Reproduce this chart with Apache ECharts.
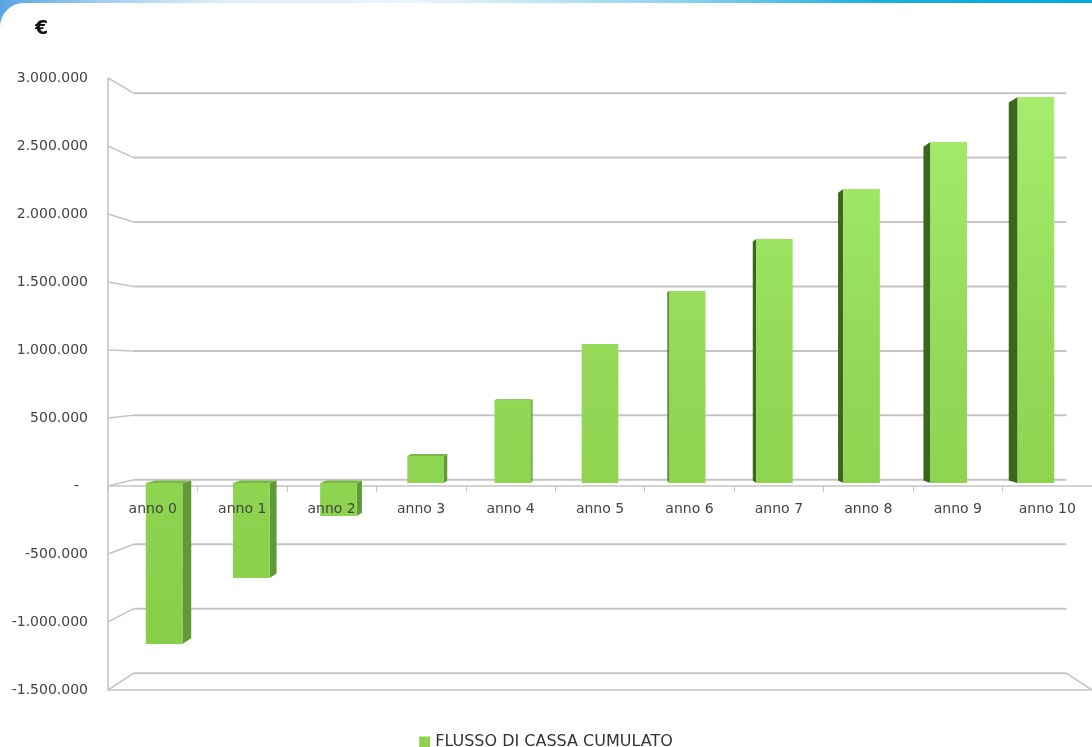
<!DOCTYPE html>
<html>
<head>
<meta charset="utf-8">
<script src="https://cdn.jsdelivr.net/npm/echarts@6/dist/echarts.min.js"></script>
<style>
html,body{margin:0;padding:0;width:1092px;height:747px;overflow:hidden;background:#fff;}
#bg{position:absolute;left:0;top:0;width:1092px;height:747px;
  background:linear-gradient(90deg,#58a6e2 0%,#9fcdf0 9%,#dcedf9 20%,#eaf5fb 38%,#8fd3ee 62%,#1cb0e0 80%,#02a9dc 100%);}
#panel{position:absolute;left:0;top:3px;width:1092px;height:744px;background:#fff;border-top-left-radius:24px;}
#chart{position:absolute;left:0;top:0;width:1092px;height:747px;}
</style>
</head>
<body>
<div id="bg"></div>
<div id="panel"></div>
<div id="chart"></div>
<script>
// ---- data ----
const categories = ['anno 0','anno 1','anno 2','anno 3','anno 4','anno 5','anno 6','anno 7','anno 8','anno 9','anno 10'];
const cumulativeCashFlow = [-1215000, -717000, -249000, 204000, 626000, 1049000, 1449000, 1841000, 2218000, 2573000, 2913000];
const yTicks = [-1500000, -1000000, -500000, 0, 500000, 1000000, 1500000, 2000000, 2500000, 3000000];
const seriesName = 'FLUSSO DI CASSA CUMULATO';

// ---- perspective settings (style) ----
const Y_MIN = -1500000, Y_MAX = 3000000, Y_STEP = 500000;
const VANISH_VALUE = 870000;   // eye level on the value axis
const WALL_DEPTH = 0.9477;     // scale of the back wall
const BAR_FRONT = 0.9746;      // scale of bar front faces
const BAR_BACK = 0.954;        // scale of bar back faces
const BAR_RATIO = 0.42;
const FONT = 'DejaVu Sans';

function project(p, s, vp) {
  return [vp[0] + (p[0] - vp[0]) * s, vp[1] + (p[1] - vp[1]) * s];
}
function fmt(v) {
  if (v === 0) return '-\u00a0\u00a0';
  const s = Math.abs(v).toString().replace(/\B(?=(\d{3})+(?!\d))/g, '.');
  return (v < 0 ? '-' : '') + s;
}
function vanish(params, api) {
  const cs = params.coordSys;
  return [cs.x + cs.width / 2, api.coord([0, VANISH_VALUE])[1]];
}

const chart = echarts.init(document.getElementById('chart'), null, {renderer: 'canvas'});

const option = {
  animation: false,
  backgroundColor: 'transparent',
  textStyle: {fontFamily: FONT},
  title: {
    text: '€', left: 30, top: 15,
    textStyle: {fontFamily: FONT, fontSize: 19, fontWeight: 'bold', color: '#111'}
  },
  legend: {
    data: [seriesName],
    left: 'center', top: 729,
    icon: 'rect', itemWidth: 11, itemHeight: 11, itemGap: 10,
    textStyle: {fontFamily: FONT, fontSize: 16, color: '#333'}
  },
  grid: {left: 108, top: 78, width: 990, height: 612, containLabel: false},
  xAxis: {
    type: 'category',
    data: categories,
    position: 'bottom',
    offset: 0,
    z: 10,
    axisLine: {show: true, onZero: false, lineStyle: {color: 'rgba(0,0,0,0)'}},
    axisTick: {show: true, length: 6, lineStyle: {color: '#c4c4c4', width: 1}},
    axisLabel: {margin: 16, fontSize: 14, color: '#444', fontFamily: FONT},
    splitLine: {show: false}
  },
  yAxis: {
    type: 'value',
    min: Y_MIN, max: Y_MAX, interval: Y_STEP,
    axisLine: {show: true, lineStyle: {color: '#c2c2c2', width: 1.5}},
    axisTick: {show: false},
    splitLine: {show: false},
    axisLabel: {margin: 20, fontSize: 14, color: '#444', fontFamily: FONT, formatter: fmt}
  },
  series: [
    {
      type: 'custom',
      name: 'wall',
      z: 1,
      silent: true,
      data: yTicks.map(v => [0, v]),
      encode: {x: 0, y: 1},
      renderItem: function (params, api) {
        const cs = params.coordSys;
        const vp = vanish(params, api);
        const v = api.value(1);
        const yf = api.coord([0, v])[1];
        const fl = [cs.x, yf], fr = [cs.x + cs.width, yf];
        const bl = project(fl, WALL_DEPTH, vp), br = project(fr, WALL_DEPTH, vp);
        const st = {stroke: '#c4c4c4', lineWidth: 2};
        const children = [
          {type: 'line', shape: {x1: fl[0], y1: fl[1], x2: bl[0], y2: bl[1]}, style: {stroke: '#c4c4c4', lineWidth: 1.5}},
          {type: 'line', shape: {x1: bl[0], y1: bl[1], x2: br[0], y2: br[1]}, style: st}
        ];
        if (v === 0 || v === Y_MIN) {
          children.push({type: 'line', shape: {x1: fl[0], y1: fl[1], x2: fr[0], y2: fr[1]}, style: {stroke: '#c4c4c4', lineWidth: 1.5}});
        }
        if (v === Y_MIN) {
          children.push({type: 'line', shape: {x1: br[0], y1: br[1], x2: fr[0], y2: fr[1]}, style: {stroke: '#c4c4c4', lineWidth: 1.5}});
        }
        return {type: 'group', children: children};
      }
    },
    {
      type: 'custom',
      name: seriesName,
      z: 3,
      itemStyle: {color: '#92d050'},
      data: cumulativeCashFlow.map((v, i) => [i, v]),
      encode: {x: 0, y: 1},
      renderItem: function (params, api) {
        const vp = vanish(params, api);
        const idx = api.value(0), v = api.value(1);
        const c = api.coord([idx, v]);
        const c0 = api.coord([idx, 0]);
        const bw = api.size([1, 0])[0] * BAR_RATIO;
        const x1 = c[0] - bw / 2, x2 = c[0] + bw / 2;
        const yTop = Math.min(c[1], c0[1]), yBot = Math.max(c[1], c0[1]);
        const F = (x, y) => project([x, y], BAR_FRONT, vp);
        const B = (x, y) => project([x, y], BAR_BACK, vp);
        const children = [];
        const dx = c[0] - vp[0];
        if (dx < -2) {
          children.push({type: 'polygon', shape: {points: [F(x2, yTop), B(x2, yTop), B(x2, yBot), F(x2, yBot)]},
            style: {fill: '#5f9b33'}});
        } else if (dx > 2) {
          children.push({type: 'polygon', shape: {points: [F(x1, yTop), B(x1, yTop), B(x1, yBot), F(x1, yBot)]},
            style: {fill: '#3b671c'}});
        }
        if (yTop > vp[1]) {
          children.push({type: 'polygon', shape: {points: [F(x1, yTop), F(x2, yTop), B(x2, yTop), B(x1, yTop)]},
            style: {fill: '#78b844'}});
        }
        const a = F(x1, yTop), b = F(x2, yBot);
        children.push({type: 'rect', shape: {x: a[0], y: a[1], width: b[0] - a[0], height: b[1] - a[1]},
          style: {fill: {type: 'linear', x: 0, y: 80, x2: 0, y2: 650, global: true,
            colorStops: [{offset: 0, color: '#a8ee6e'}, {offset: 0.5, color: '#93d957'}, {offset: 1, color: '#88cd48'}]}}});
        return {type: 'group', children: children};
      }
    }
  ]
};
chart.setOption(option);
// move the category axis up to the zero level of the value scale
const yZero = chart.convertToPixel({yAxisIndex: 0}, 0);
const yBottom = chart.convertToPixel({yAxisIndex: 0}, Y_MIN);
chart.setOption({xAxis: {offset: -(yBottom - yZero)}});
</script>
</body>
</html>
